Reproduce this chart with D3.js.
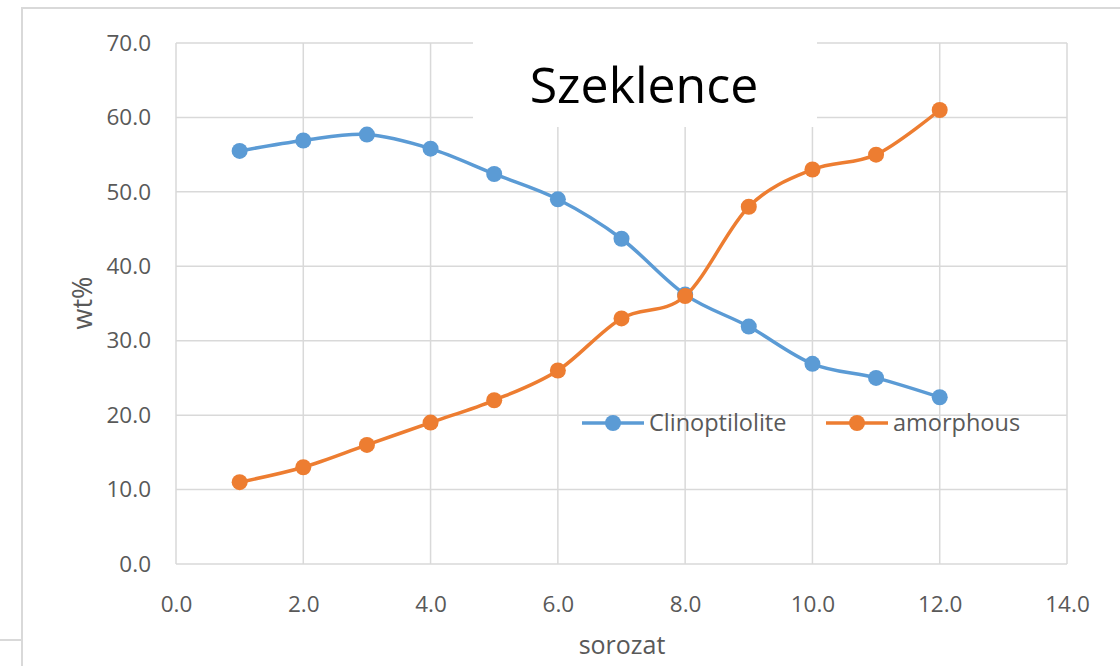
<!DOCTYPE html>
<html><head><meta charset="utf-8">
<script src="https://cdn.jsdelivr.net/npm/d3@7/dist/d3.min.js"></script>
<style>body{margin:0;background:#fff;overflow:hidden}svg{display:block}</style>
</head><body>
<script>
const xValues = [1,2,3,4,5,6,7,8,9,10,11,12];
const clinoptilolite = [55.5,56.9,57.7,55.8,52.4,49.0,43.7,36.2,31.9,26.9,25.0,22.4];
const amorphous = [11.0,13.0,16.0,19.0,22.0,26.0,33.0,36.0,48.0,53.0,55.0,61.0];
const xTicks = [0,2,4,6,8,10,12,14];
const yTicks = [0,10,20,30,40,50,60,70];
const seriesNames = ["Clinoptilolite","amorphous"];
const colors = ["#5B9BD5","#ED7D31"];
const title = "Szeklence";
const xTitle = "sorozat";
const yTitle = "wt%";

const W=1120,H=666;
const svg=d3.select("body").append("svg").attr("width",W).attr("height",H);
const font="'Open Sans', 'Liberation Sans', sans-serif";

// outer frame
svg.append("rect").attr("x",22).attr("y",8).attr("width",1200).attr("height",800)
  .attr("fill","#fff").attr("stroke","#d9d9d9").attr("stroke-width",2);
svg.append("line").attr("x1",0).attr("x2",22).attr("y1",640).attr("y2",640)
  .attr("stroke","#d9d9d9").attr("stroke-width",2);

const x=d3.scaleLinear().domain([0,14]).range([176,1067]);
const y=d3.scaleLinear().domain([0,70]).range([564,43]);

// gridlines
const g=svg.append("g");
g.selectAll(".hg").data(yTicks).join("line")
  .attr("x1",x(0)).attr("x2",x(14)).attr("y1",d=>y(d)).attr("y2",d=>y(d))
  .attr("stroke","#d9d9d9").attr("stroke-width",1.5);
g.selectAll(".vg").data(xTicks).join("line")
  .attr("y1",y(0)).attr("y2",y(70)).attr("x1",d=>x(d)).attr("x2",d=>x(d))
  .attr("stroke","#d9d9d9").attr("stroke-width",1.5);

// axes labels via d3 axes
const ya=svg.append("g").attr("transform",`translate(${x(0)-10},0)`)
  .call(d3.axisLeft(y).tickValues(yTicks).tickFormat(d3.format(".1f")).tickSize(0).tickPadding(15));
ya.select(".domain").remove();
ya.selectAll("text").attr("font-family",font).attr("font-size",22.5).attr("fill","#595959");
const xa=svg.append("g").attr("transform",`translate(0,${y(0)+14})`)
  .call(d3.axisBottom(x).tickValues(xTicks).tickFormat(d3.format(".1f")).tickSize(0).tickPadding(18));
xa.select(".domain").remove();
xa.selectAll("text").attr("font-family",font).attr("font-size",22.5).attr("fill","#595959");

// axis titles
svg.append("text").attr("transform","translate(92,303) rotate(-90)").attr("text-anchor","middle")
  .attr("font-family",font).attr("font-size",27).attr("fill","#595959").text(yTitle);
svg.append("text").attr("x",622).attr("y",654).attr("text-anchor","middle")
  .attr("font-family",font).attr("font-size",25).attr("fill","#595959").text(xTitle);

// title box
svg.append("rect").attr("x",473).attr("y",30).attr("width",344).attr("height",97).attr("fill","#fff");
svg.append("text").attr("x",644).attr("y",103).attr("text-anchor","middle")
  .attr("font-family",font).attr("font-size",50).attr("fill","#000").text(title);

// series
const line=d3.line().x((d,i)=>x(xValues[i])).y(d=>y(d)).curve(d3.curveCatmullRom.alpha(0));
[clinoptilolite,amorphous].forEach((s,k)=>{
  svg.append("path").attr("d",line(s)).attr("fill","none").attr("stroke",colors[k])
    .attr("stroke-width",3.5).attr("stroke-linecap","round");
  svg.selectAll(".m"+k).data(s).join("circle").attr("cx",(d,i)=>x(xValues[i])).attr("cy",d=>y(d))
    .attr("r",8).attr("fill",colors[k]);
});

// legend
const leg=[{x0:582,tx:649},{x0:826,tx:893}];
seriesNames.forEach((n,k)=>{
  const L=leg[k], ly=423;
  svg.append("line").attr("x1",L.x0).attr("x2",L.x0+62).attr("y1",ly).attr("y2",ly)
    .attr("stroke",colors[k]).attr("stroke-width",3.5);
  svg.append("circle").attr("cx",L.x0+31).attr("cy",ly).attr("r",8).attr("fill",colors[k]);
  svg.append("text").attr("x",L.tx).attr("y",ly+8).attr("font-family",font).attr("font-size",23.5)
    .attr("fill","#595959").text(n);
});
</script>
</body></html>
